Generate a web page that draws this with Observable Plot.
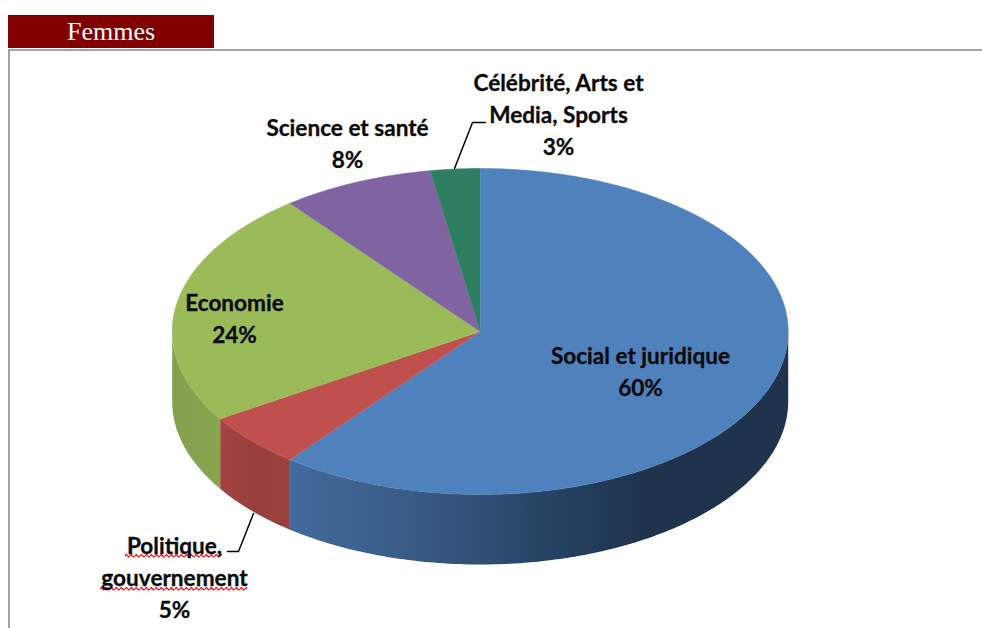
<!DOCTYPE html>
<html lang="fr">
<head>
<meta charset="utf-8">
<script src="https://cdn.jsdelivr.net/npm/d3@7"></script>
<script src="https://cdn.jsdelivr.net/npm/@observablehq/plot@0.6"></script>
<style>
  html, body { margin: 0; padding: 0; background: #fff; overflow: hidden; }
  #header { position: absolute; left: 8px; top: 15px; width: 206px; height: 33px; background: #800000; color: #fff;
    font: 26px "Liberation Serif", serif; line-height: 33px; text-align: center; box-sizing: border-box; }
  #chart { position: absolute; left: 0; top: 48px; }
  #frame { position: absolute; left: 8px; top: 49px; right: 0; bottom: 0; border-top: 2px solid #a3a3a3; border-left: 2px solid #a3a3a3; }
</style>
</head>
<body>
<div id="header">Femmes</div>
<div id="chart"></div>
<div id="frame"></div>
<script>
// Slice shares (clockwise from 12 o'clock)
const categories = ["Social et juridique", "Politique, gouvernement", "Economie", "Science et santé", "Célébrité, Arts et Media, Sports"];
const shares = [60.6, 5.4, 23.4, 8.0, 2.6];
const topColors = ["#4f81bd", "#c0504d", "#9bbb59", "#8064a2", "#2e7f62"];

// Label text and leader geometry, in page pixels
const labelLines = [
  "Social et juridique\n60%",
  "Politique,\ngouvernement\n5%",
  "Economie\n24%",
  "Science et santé\n8%",
  "Célébrité, Arts et\nMedia, Sports\n3%"
];
const labelCentres = [[640, 369], [174, 575], [234, 316], [347, 141], [558, 112]];
const leaders = [
  [[454, 168], [472, 122], [485, 122]],
  [[253, 513], [238, 551], [227, 551]]
];
const squiggles = [[125, 222, 552, 559], [100, 247, 585, 592]];

const cx = 479.7, cy = 331, rx = 308, ry = 163, depth = 70, svgTop = 48;
const ux = px => (px - cx) / rx;
const uy = py => (cy - py) / ry;
const thick = depth / ry;

const total = d3.sum(shares);
let run = 0;
const slices = shares.map((v, i) => {
  const a0 = run / total * 2 * Math.PI;
  run += v;
  return { i, name: categories[i], a0, a1: run / total * 2 * Math.PI };
});
const arc = (a0, a1) => {
  const n = Math.max(2, Math.ceil((a1 - a0) * 60));
  return d3.range(n + 1).map(k => {
    const a = a0 + (a1 - a0) * k / n;
    return { x: Math.sin(a), y: Math.cos(a) };
  });
};
const wedge = s => [{ x: 0, y: 0 }, ...arc(s.a0, s.a1)];
// Visible rim: the part of the slice on the front half of the ellipse
const side = s => {
  const a0 = Math.max(s.a0, Math.PI / 2), a1 = Math.min(s.a1, 3 * Math.PI / 2);
  if (a1 <= a0) return null;
  const p = arc(a0, a1);
  return [...p, ...p.slice().reverse().map(d => ({ x: d.x, y: d.y - thick }))];
};

const sideFills = ["url(#sideBlue)", "url(#sideRed)", "url(#sideGreen)"];
const defs = () => {
  const svg = d3.create("svg:g");
  const d = svg.append("defs");
  const grad = (id, stops) => {
    const g = d.append("linearGradient").attr("id", id).attr("x1", 0).attr("x2", 1).attr("y1", 0).attr("y2", 0);
    stops.forEach(([o, c]) => g.append("stop").attr("offset", o).attr("stop-color", c));
  };
  grad("sideBlue", [[0, "#426a9c"], [0.25, "#385b85"], [0.55, "#24405f"], [0.72, "#1f334d"], [1, "#1f334d"]]);
  grad("sideRed", [[0, "#a34441"], [0.5, "#983f3c"], [1, "#9a403d"]]);
  grad("sideGreen", [[0, "#85a04c"], [1, "#89a550"]]);
  const pat = d.append("pattern").attr("id", "wavy").attr("width", 5).attr("height", 33).attr("patternUnits", "userSpaceOnUse");
  pat.append("path").attr("d", "M0 13 L1.25 11.5 L3.75 14 L5 13").attr("fill", "none").attr("stroke", "#ff1018").attr("stroke-width", 1.2);
  return svg.node();
};

const font = { fontFamily: "Lato, sans-serif", fontWeight: 700, fontSize: 22.6, fill: "#0a0a0a", stroke: "#0a0a0a", strokeWidth: 0.3, lineHeight: 1.42 };

const marks = [
  defs,
  ...slices.map(s => {
    const pts = side(s);
    return pts ? Plot.line(pts, { x: "x", y: "y", fill: sideFills[s.i], stroke: null, curve: "linear" }) : null;
  }),
  ...slices.map(s => Plot.line(wedge(s), { x: "x", y: "y", fill: topColors[s.i], stroke: topColors[s.i], strokeWidth: 0.5, curve: "linear" })),
  ...leaders.map(l => Plot.line(l, { x: d => ux(d[0]), y: d => uy(d[1]), stroke: "#000", strokeWidth: 1.5, curve: "linear" })),
  Plot.rect(squiggles, { x1: d => ux(d[0]), x2: d => ux(d[1]), y1: d => uy(d[2]), y2: d => uy(d[3]), fill: "url(#wavy)" }),
  Plot.text(labelLines.map((t, i) => ({ t, p: labelCentres[i] })), {
    x: d => ux(d.p[0]), y: d => uy(d.p[1]), text: "t", textAnchor: "middle", ...font
  })
];

const plot = Plot.plot({
  width: 982,
  height: 580,
  margin: 0,
  axis: null,
  x: { domain: [-1, 1], range: [cx - rx, cx + rx] },
  y: { domain: [-1, 1], range: [cy + ry - svgTop, cy - ry - svgTop] },
  style: { background: "transparent", overflow: "visible" },
  marks
});
document.getElementById("chart").append(plot);
</script>
</body>
</html>
